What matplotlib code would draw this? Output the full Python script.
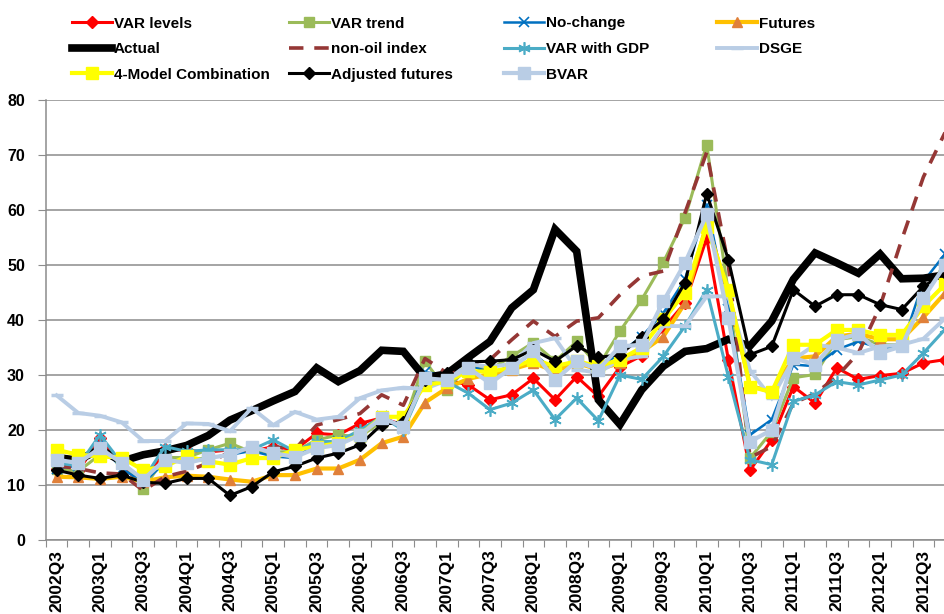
import matplotlib
matplotlib.use("Agg")
import matplotlib.pyplot as plt
from matplotlib.ticker import FixedLocator, NullFormatter
import numpy as np

# quarters 2002Q3 .. 2012Q4
quarters = [f"{y}Q{q}" for y in range(2002, 2013) for q in range(1, 5)][2:]

actual = [15.0, 14.5, 16.5, 14.3, 15.5, 16.2, 17.2, 19.0, 21.8, 23.5, 25.3, 27.0, 31.3, 28.8,
          30.8, 34.5, 34.3, 29.5, 30.2, 33.2, 36.1, 42.2, 45.5, 56.5, 52.5, 25.5, 21.0, 27.3,
          31.6, 34.3, 34.8, 36.5, 35.3, 39.8, 47.4, 52.2, 50.4, 48.5, 52.0, 47.5, 47.6, 48.2]
var_levels = [13.0, 12.5, 18.5, 13.5, 10.0, 16.5, 16.3, 16.0, 16.4, 16.1, 17.0, 16.4, 19.4, 19.1,
              21.2, 22.2, 20.9, 29.7, 29.1, 28.2, 25.5, 26.4, 29.4, 25.5, 29.7, 26.1, 31.5, 33.5,
              38.5, 43.1, 54.9, 32.8, 12.7, 18.2, 27.9, 24.9, 31.3, 29.2, 29.9, 30.3, 32.2, 32.8]
var_trend = [13.0, 12.5, 15.5, 14.6, 9.3, 15.0, 15.0, 16.4, 17.6, 16.0, 16.0, 16.1, 18.2, 19.1,
             18.8, 21.5, 21.0, 32.5, 27.3, 31.6, 31.0, 33.4, 35.9, 32.5, 36.1, 31.6, 38.0, 43.7,
             50.5, 58.6, 71.9, 45.0, 14.9, 19.7, 29.5, 30.1, 36.4, 37.0, 35.5, 35.5, 44.0, 50.4]
no_change = [13.0, 13.5, 17.5, 13.0, 10.5, 14.0, 14.5, 15.0, 15.5, 16.2, 15.2, 14.9, 17.5, 18.0,
             19.5, 22.5, 20.5, 30.5, 30.0, 31.9, 30.4, 31.6, 33.9, 30.7, 32.5, 31.2, 34.0, 37.0,
             41.3, 47.4, 61.0, 42.0, 19.1, 21.9, 31.9, 31.6, 34.6, 36.1, 34.9, 35.2, 47.0, 52.0]
futures = [11.5, 11.4, 11.1, 11.5, 10.6, 11.4, 11.7, 11.5, 11.0, 10.6, 11.8, 11.8, 13.0, 13.0,
           14.6, 17.6, 18.8, 25.0, 27.6, 29.3, 30.2, 31.0, 32.2, 30.7, 32.2, 31.0, 32.2, 34.2,
           37.0, 43.1, 57.5, 45.0, 28.0, 27.0, 33.0, 33.4, 37.0, 37.5, 36.5, 36.5, 40.5, 44.9]
non_oil = [13.5, 13.0, 12.2, 12.0, 9.0, 11.5, 12.5, 14.0, 16.0, 16.5, 17.0, 16.5, 20.9, 21.9,
           23.0, 26.4, 24.5, 33.0, 30.4, 31.3, 32.8, 36.4, 39.8, 37.0, 39.8, 40.4, 44.6, 48.0,
           48.9, 59.5, 70.5, 50.0, 15.0, 17.0, 24.9, 26.6, 29.7, 34.0, 42.5, 54.6, 66.0, 74.1]
var_gdp = [14.0, 13.5, 19.1, 14.0, 11.0, 17.0, 16.1, 16.4, 16.4, 16.4, 18.2, 16.1, 17.9, 17.9,
           20.0, 22.4, 20.0, 29.0, 28.8, 26.7, 23.7, 24.9, 27.3, 21.9, 25.8, 21.7, 30.0, 29.2,
           33.4, 38.9, 45.5, 29.7, 14.6, 13.7, 25.2, 26.4, 28.8, 28.2, 29.1, 30.0, 34.0, 38.3]
dsge = [26.3, 23.1, 22.6, 21.4, 18.0, 18.0, 21.2, 21.1, 19.8, 24.0, 20.9, 23.3, 21.9, 22.4,
        25.8, 27.2, 27.7, 27.5, 29.0, 32.0, 31.5, 32.0, 35.8, 36.7, 31.0, 30.4, 32.8, 33.4,
        38.9, 38.9, 44.3, 44.3, 30.8, 25.8, 32.8, 35.5, 35.0, 34.0, 35.2, 35.5, 36.6, 40.3]
combo4 = [16.4, 15.5, 15.2, 15.0, 12.7, 13.4, 15.2, 14.3, 13.7, 14.9, 14.9, 16.4, 17.0, 17.6,
          19.1, 22.4, 22.4, 28.2, 28.8, 30.7, 30.6, 31.3, 32.8, 31.6, 32.5, 31.6, 32.8, 35.0,
          40.1, 45.0, 57.0, 45.5, 27.9, 26.9, 35.5, 35.5, 38.2, 38.2, 37.3, 37.3, 42.5, 46.5]
adj_futures = [12.7, 11.8, 11.2, 11.8, 10.5, 10.3, 11.2, 11.2, 8.1, 9.7, 12.4, 13.4, 14.9, 15.8,
               17.3, 21.0, 21.5, 29.1, 30.4, 32.4, 32.5, 32.8, 34.6, 32.5, 35.3, 33.2, 33.7, 37.0,
               40.1, 46.8, 63.0, 51.0, 33.7, 35.2, 45.5, 42.5, 44.6, 44.6, 42.8, 41.9, 46.1, 48.6]
bvar = [14.6, 14.0, 16.7, 14.0, 11.0, 14.6, 14.0, 14.9, 15.5, 17.0, 15.8, 15.1, 16.7, 17.3,
        19.1, 22.2, 20.6, 29.4, 29.1, 31.3, 28.5, 31.3, 34.3, 29.1, 32.5, 31.0, 35.2, 35.5,
        43.4, 50.4, 59.2, 40.4, 17.9, 20.0, 33.1, 31.9, 36.4, 37.5, 34.0, 35.2, 44.0, 50.0]

plt.rcParams["font.family"] = ["Liberation Sans", "DejaVu Sans"]
plt.rcParams["font.weight"] = "bold"

fig = plt.figure(figsize=(9.44, 6.14), dpi=100)
ax = fig.add_axes([0.0485, 0.1205, 0.9641, 0.7166])
x = np.arange(len(quarters))

asterisk = (6, 2, 0)
series = [
    ("VAR levels", var_levels, dict(color="#FF0000", lw=2.2, marker="D", ms=6)),
    ("VAR trend", var_trend, dict(color="#9BBB59", lw=2.2, marker="s", ms=7)),
    ("No-change", no_change, dict(color="#0070C0", lw=1.8, marker="x", ms=7, mew=1.2)),
    ("Futures", futures, dict(color="#FFC000", lw=3.0, marker="^", ms=7,
                              mfc="#E0803A", mec="#E0803A")),
    ("Actual", actual, dict(color="black", lw=5.5)),
    ("non-oil index", non_oil, dict(color="#953735", lw=2.6, ls=(0, (4, 3)))),
    ("VAR with GDP", var_gdp, dict(color="#4BACC6", lw=2.2, marker=asterisk, ms=9, mew=1.2)),
    ("DSGE", dsge, dict(color="#B9CDE5", lw=2.8, marker="_", ms=9, mew=2.5)),
    ("4-Model Combination", combo4, dict(color="#FFFF00", lw=3.0, marker="s", ms=8)),
    ("Adjusted futures", adj_futures, dict(color="black", lw=2.2, marker="D", ms=6)),
    ("BVAR", bvar, dict(color="#B9CDE5", lw=3.0, marker="s", ms=8)),
]

handles = {}
for name, vals, kw in series:
    line, = ax.plot(x, vals, label=name, solid_joinstyle="miter", **kw)
    handles[name] = line

ax.set_xlim(-0.5, len(quarters) - 0.5)
ax.set_ylim(0, 80)
ax.set_yticks(range(0, 81, 10))
ax.yaxis.grid(True, color="#8C8C8C", lw=1.1)
ax.set_axisbelow(True)

# ticks between categories, labels on every second quarter
ax.xaxis.set_major_locator(FixedLocator(np.arange(-0.5, len(quarters), 1.0)))
ax.xaxis.set_major_formatter(NullFormatter())
ax.xaxis.set_minor_locator(FixedLocator(x[::2]))
ax.set_xticklabels(quarters[::2], minor=True, rotation=90, fontsize=12.5, fontweight="bold")
ax.tick_params(axis="x", which="major", length=5, color="#8C8C8C", direction="out")
ax.tick_params(axis="x", which="minor", length=0, pad=7)
ax.tick_params(axis="y", length=6, color="#8C8C8C", labelsize=11.5, pad=9)

for s in ["top", "right"]:
    ax.spines[s].set_visible(False)
for s in ["left", "bottom"]:
    ax.spines[s].set_color("#8C8C8C")
    ax.spines[s].set_linewidth(1.1)

# legend laid out like the original: four columns, row by row
cols = [["VAR levels", "Actual", "4-Model Combination"],
        ["VAR trend", "non-oil index", "Adjusted futures"],
        ["No-change", "VAR with GDP", "BVAR"],
        ["Futures", "DSGE"]]
col_x = [72, 289, 504, 717]
for cx, labels in zip(col_x, cols):
    fig.legend([handles[l] for l in labels], labels, loc="upper left",
               bbox_to_anchor=(cx / 944, 1 - 16.5 / 614), frameon=False, fontsize=11,
               handlelength=2.6, handletextpad=0.15, labelspacing=0.76, borderpad=0,
               borderaxespad=0, numpoints=1)

fig.savefig("out.png", dpi=100)
